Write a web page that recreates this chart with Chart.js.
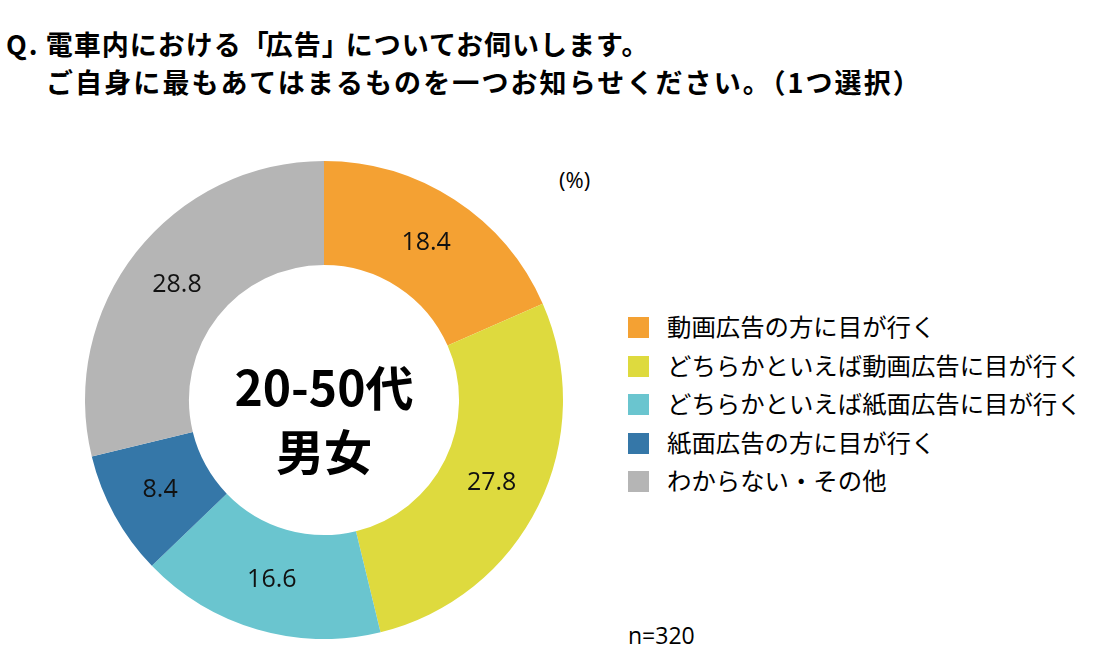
<!DOCTYPE html>
<html><head><meta charset="utf-8">
<script src="https://cdn.jsdelivr.net/npm/chart.js@4"></script>
<style>
html,body{margin:0;padding:0;background:#fff;}
body{width:1097px;height:652px;position:relative;overflow:hidden;font-family:"Noto Sans CJK JP",sans-serif;color:#000;}
.t{position:absolute;white-space:nowrap;}
#title1,#title2{font-weight:bold;font-size:27px;line-height:32px;}
#title1{left:6px;top:28px;letter-spacing:1px;}
#title2{left:46px;top:66px;letter-spacing:2.1px;}
#cwrap{position:absolute;left:85px;top:161px;width:478px;height:478px;}
.center{position:absolute;font-weight:bold;font-size:48px;line-height:50px;text-align:center;width:300px;left:174px;}
#legend{position:absolute;left:628px;top:316px;}
.li{height:38.6px;position:relative;}
.sw{position:absolute;left:0;top:1px;width:21px;height:21px;}
.lt{position:absolute;left:39px;top:-6px;font-size:24.4px;line-height:32px;white-space:nowrap;}
</style></head><body>
<div class="t" id="title1">Q<span style="margin-left:1px">.</span> 電車内における<span style="letter-spacing:-3px">「</span>広告<span style="letter-spacing:-3px">」</span>についてお伺いします。</div>
<div class="t" id="title2">ご自身に最もあてはまるものを一つお知らせください。（1つ選択）</div>
<div class="t" style="left:559px;top:164px;font-size:22px;font-family:'Open Sans','Noto Sans CJK JP';">(%)</div>
<div class="t" style="left:628px;top:619px;font-size:23px;font-family:'Open Sans','Noto Sans CJK JP';">n=320</div>
<div id="cwrap"><canvas id="c" width="478" height="478"></canvas></div>
<div class="center" style="top:360px;" id="ct1"></div>
<div class="center" style="top:424px;" id="ct2"></div>
<div id="legend"></div>
<script>
const categories = ["動画広告の方に目が行く","どちらかといえば動画広告に目が行く","どちらかといえば紙面広告に目が行く","紙面広告の方に目が行く","わからない・その他"];
const values = [18.4, 27.8, 16.6, 8.4, 28.8];
const colors = ["#F4A133","#DEDA3E","#6AC5CF","#3577A8","#B5B5B5"];
const centerLines = ["20-50代","男女"];

document.getElementById('ct1').textContent = centerLines[0];
document.getElementById('ct2').textContent = centerLines[1];

const lg = document.getElementById('legend');
categories.forEach((c,i)=>{
  const d=document.createElement('div');d.className='li';
  d.innerHTML='<div class="sw" style="background:'+colors[i]+'"></div><div class="lt"></div>';
  d.querySelector('.lt').textContent=c;
  lg.appendChild(d);
});

const labelPlugin = {
  id:'valLabels',
  afterDatasetsDraw(chart){
    const ctx=chart.ctx;
    const meta=chart.getDatasetMeta(0);
    ctx.save();
    ctx.fillStyle='#111';
    ctx.font='25px "Open Sans","Noto Sans CJK JP"';
    ctx.textAlign='center';ctx.textBaseline='middle';
    meta.data.forEach((arc,i)=>{
      const p=arc.tooltipPosition();
      ctx.fillText(values[i].toFixed(1), p.x, p.y);
    });
    ctx.restore();
  }
};

new Chart(document.getElementById('c'),{
  type:'doughnut',
  data:{labels:categories,datasets:[{data:values,backgroundColor:colors,borderWidth:0}]},
  options:{
    responsive:false,animation:false,cutout:'56.5%',
    layout:{padding:0},
    plugins:{legend:{display:false},tooltip:{enabled:false}}
  },
  plugins:[labelPlugin]
});
</script>
</body></html>
